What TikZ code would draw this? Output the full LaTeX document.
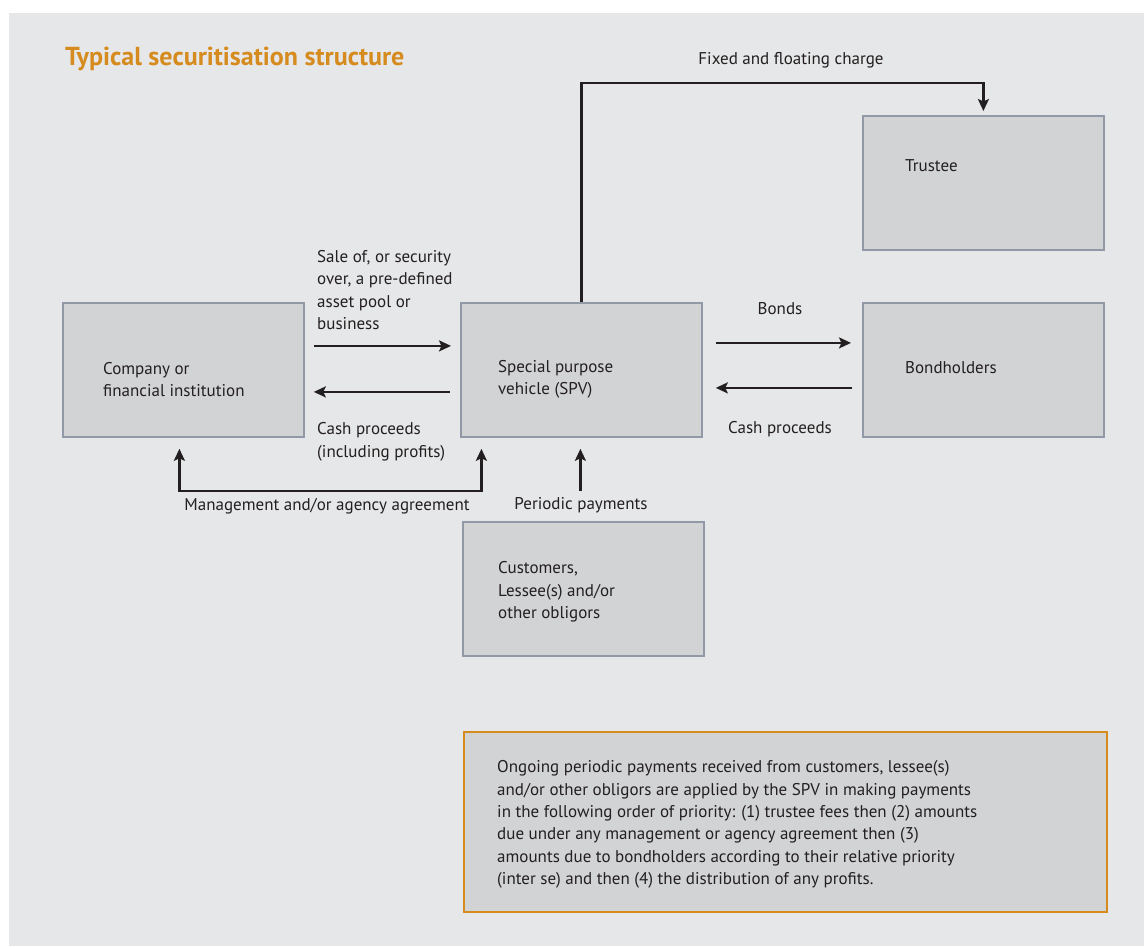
\documentclass[tikz,border=0pt]{standalone}
\usepackage{fontspec}
\setmainfont{PT Sans}
\usetikzlibrary{arrows.meta,calc}
\definecolor{bg}{HTML}{E6E7E8}
\definecolor{boxfill}{HTML}{D2D3D5}
\definecolor{boxedge}{HTML}{9299A6}
\definecolor{orng}{HTML}{D68B1F}
\definecolor{ink}{HTML}{231F20}
\newcommand{\fs}{\fontsize{17}{22.4}\selectfont}
\begin{document}
\begin{tikzpicture}[x=1pt,y=-1pt,
  box/.style={draw=boxedge, fill=boxfill, line width=1.8pt, minimum width=241pt, minimum height=134pt, inner sep=0pt, anchor=north west},
  note/.style={draw=orng, fill=boxfill, line width=2.2pt, minimum width=643pt, minimum height=180pt, inner sep=0pt, anchor=north west},
  lbl/.style={font=\fs, text=ink, inner sep=0pt, align=left, anchor=west},
  clbl/.style={font=\fs, text=ink, inner sep=0pt, align=center},
  arr/.style={-{Stealth[length=12pt,width=11pt,inset=2.5pt]}, line width=2.2pt, draw=ink},
  arrboth/.style={{Stealth[length=12pt,width=11pt,inset=2.5pt]}-{Stealth[length=12pt,width=11pt,inset=2.5pt]}, line width=2.2pt, draw=ink}]
\useasboundingbox (0,0) rectangle (1144,946);
\fill[white] (0,0) rectangle (1144,946);
\fill[bg] (9,13) rectangle (1144,946);
% title
\node[font=\fontsize{26}{30}\selectfont\bfseries, text=orng, inner sep=0pt, anchor=west] (title) at (65,59) {Typical securitisation structure};
% boxes
\node[box] (company) at (62,302) {};
\node[box] (spv) at (460,302) {};
\node[box] (bond) at (862,302) {};
\node[box] (trustee) at (862,115) {};
\node[box] (cust) at (462,521) {};
\node[note] (notebox) at (463,731) {};
% box texts
\node[lbl] (companyt) at (103,379.5) {Company or\\financial institution};
\node[lbl] (spvt) at (498,379.5) {Special purpose\\vehicle (SPV)};
\node[lbl] (bondt) at (905,368) {Bondholders};
\node[lbl] (trusteet) at (905,166) {Trustee};
\node[lbl] (custt) at (498,592) {Customers,\\Lessee(s) and/or\\other obligors};
\node[lbl] (notet) at (497,824.5) {Ongoing periodic payments received from customers, lessee(s)\\and/or other obligors are applied by the SPV in making payments\\in the following order of priority: (1) trustee fees then (2) amounts\\due under any management or agency agreement then (3)\\amounts due to bondholders according to their relative priority\\(inter se) and then (4) the distribution of any profits.};
% arrows company <-> spv
\draw[arr] ($(company.east)+(9,-24)$) -- ($(spv.west)+(-9,-24)$);
\draw[arr] ($(spv.west)+(-10,22)$) -- ($(company.east)+(9,22)$);
\node[lbl] (salet) at (317,290) {Sale of, or security\\over, a pre-defined\\asset pool or\\business};
\node[lbl] (cashl) at (317,442) {Cash proceeds\\(including profits)};
% spv <-> bondholders
\draw[arr] ($(spv.east)+(13,-27)$) -- ($(bond.west)+(-11,-27)$);
\draw[arr] ($(bond.west)+(-10,18)$) -- ($(spv.east)+(13,18)$);
\node[clbl] (bondst) at (780,309) {Bonds};
\node[clbl] (cashr) at (780,429) {Cash proceeds};
% fixed and floating charge
\draw[arr] (spv.north) -- ++(0,-219) -| ([yshift=4pt]trustee.north);
\node[clbl] (fixt) at (791,60) {Fixed and floating charge};
% management
\draw[arrboth] ($(company.south)+(-4,11)$) |- ($(spv.south)+(-100,53)$) -- ($(spv.south)+(-100,11)$);
\node[clbl] (mgmt) at (327,506) {Management and/or agency agreement};
% periodic
\draw[arr] ($(cust.north)+(-3,-30)$) -- ($(spv.south)+(-1,11)$);
\node[clbl] (perio) at (581,505) {Periodic payments};
\end{tikzpicture}
\end{document}
